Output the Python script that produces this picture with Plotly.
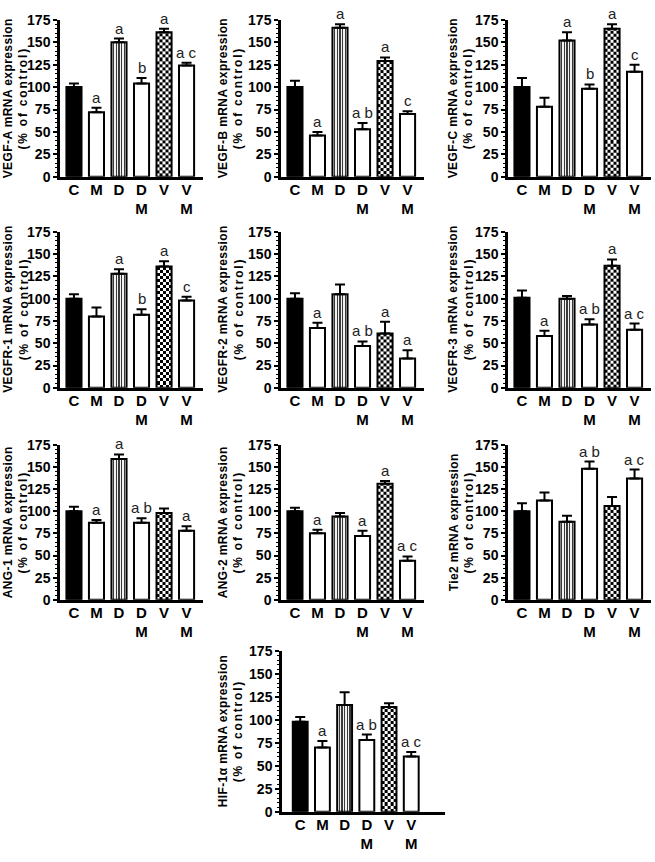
import numpy as np
import plotly.graph_objects as go

# ---------------- data ----------------
categories = ["C", "M", "D", "D<br>M", "V", "V<br>M"]
y_ticks = [0, 25, 50, 75, 100, 125, 150, 175]

genes = ["VEGF-A", "VEGF-B", "VEGF-C", "VEGFR-1", "VEGFR-2",
         "VEGFR-3", "ANG-1", "ANG-2", "Tie2", "HIF-1α"]

vegfa_mean = [100, 72, 150, 104, 161, 124]
vegfa_sem = [4, 5, 4, 6, 4, 3]
vegfa_sig = ["", "a", "a", "b", "a", "a c"]

vegfb_mean = [100, 46, 166, 53, 129, 70]
vegfb_sem = [7, 4, 4, 7, 4, 3]
vegfb_sig = ["", "a", "a", "a b", "a", "c"]

vegfc_mean = [100, 78, 152, 98, 165, 117]
vegfc_sem = [10, 10, 9, 5, 5, 8]
vegfc_sig = ["", "", "a", "b", "a", "c"]

vegfr1_mean = [100, 80, 128, 82, 136, 98]
vegfr1_sem = [5, 10, 5, 6, 6, 4]
vegfr1_sig = ["", "", "a", "b", "a", "c"]

vegfr2_mean = [100, 67, 105, 47, 61, 33]
vegfr2_sem = [6, 6, 11, 5, 13, 9]
vegfr2_sig = ["", "a", "", "a b", "a", "a"]

vegfr3_mean = [101, 58, 100, 71, 137, 65]
vegfr3_sem = [8, 6, 3, 6, 7, 7]
vegfr3_sig = ["", "a", "", "a b", "a", "a c"]

ang1_mean = [100, 87, 159, 87, 98, 78]
ang1_sem = [5, 3, 5, 5, 5, 5]
ang1_sig = ["", "a", "a", "a b", "", "a"]

ang2_mean = [100, 75, 94, 72, 131, 44]
ang2_sem = [4, 4, 4, 6, 3, 5]
ang2_sig = ["", "a", "", "a", "a", "a c"]

tie2_mean = [100, 112, 88, 148, 106, 137]
tie2_sem = [9, 9, 7, 8, 10, 10]
tie2_sig = ["", "", "", "a b", "", "a c"]

hif1a_mean = [98, 70, 116, 78, 114, 60]
hif1a_sem = [5, 7, 14, 6, 4, 5]
hif1a_sig = ["", "a", "", "a b", "", "a c"]

means = [vegfa_mean, vegfb_mean, vegfc_mean, vegfr1_mean, vegfr2_mean,
         vegfr3_mean, ang1_mean, ang2_mean, tie2_mean, hif1a_mean]
sems = [vegfa_sem, vegfb_sem, vegfc_sem, vegfr1_sem, vegfr2_sem,
        vegfr3_sem, ang1_sem, ang2_sem, tie2_sem, hif1a_sem]
sigs = [vegfa_sig, vegfb_sig, vegfc_sig, vegfr1_sig, vegfr2_sig,
        vegfr3_sig, ang1_sig, ang2_sig, tie2_sig, hif1a_sig]

# ---------------- layout / style ----------------
W, H = 655, 862
FONT = "Liberation Sans, Arial, sans-serif"
# (x0, x1, y_top, y_zero) in screen pixels
panel_boxes = [
    (60, 203, 12, 172), (281, 424, 12, 172), (508, 651, 12, 172),
    (60, 203, 228, 387), (281, 424, 228, 387), (508, 651, 228, 387),
    (60, 203, 445, 603), (281, 424, 445, 603), (508, 651, 445, 603),
    (282, 445, 655, 819),
]
title_x = [16, 231, 461, 16, 231, 461, 16, 231, 462, 231]
x_ranges = [[-0.62, 5.73]] * 9 + [[-0.82, 6.52]]
BAR_W = 0.67
fill_colors = ["black", "white", "rgba(0,0,0,0)", "white", "rgba(0,0,0,0)", "white"]
CHECK_IDX = 4     # checkerboard bar
CHECK_NX = 5
CHECK_H = 3.4
STRIPE_IDX = 2    # vertical-stripe bar
STRIPE_N = 11

fig = go.Figure()
annotations = []
layout_axes = {}

for i in range(10):
    sfx = "" if i == 0 else str(i + 1)
    xa, ya = "x" + sfx, "y" + sfx
    x0, x1, yt, yz = panel_boxes[i]
    m, s, sg = means[i], sems[i], sigs[i]
    xs = list(range(len(categories)))

    # checkerboard fill under the V bar, built from its value
    v = m[CHECK_IDX]
    xe = np.linspace(CHECK_IDX - BAR_W / 2, CHECK_IDX + BAR_W / 2, CHECK_NX + 1)
    ye = np.append(np.arange(0, v, CHECK_H), v)
    z = [[(r + c) % 2 for c in range(CHECK_NX)] for r in range(len(ye) - 1)]
    fig.add_trace(go.Heatmap(
        x=xe, y=ye, z=z, zmin=0, zmax=1,
        colorscale=[[0, "white"], [1, "black"]], showscale=False,
        hoverinfo="skip", xaxis=xa, yaxis=ya))

    # vertical stripes under the D bar, built from its value
    d = m[STRIPE_IDX]
    xe2 = np.linspace(STRIPE_IDX - BAR_W / 2, STRIPE_IDX + BAR_W / 2, STRIPE_N + 1)
    z2 = [[c % 2 for c in range(STRIPE_N)]]
    fig.add_trace(go.Heatmap(
        x=xe2, y=[0, d], z=z2, zmin=0, zmax=1,
        colorscale=[[0, "#f2f2f2"], [1, "#3a3a3a"]], showscale=False,
        hoverinfo="skip", xaxis=xa, yaxis=ya))

    fig.add_trace(go.Bar(
        x=xs, y=m, width=BAR_W,
        marker=dict(color=fill_colors, line=dict(color="black", width=2)),
        error_y=dict(type="data", symmetric=False, array=s,
                     arrayminus=[0] * len(s), color="black",
                     thickness=2, width=5),
        showlegend=False, xaxis=xa, yaxis=ya))

    for j in xs:
        if sg[j]:
            annotations.append(dict(
                x=j, y=m[j] + s[j], xref=xa, yref=ya, text=sg[j],
                showarrow=False, yanchor="bottom", xanchor="center",
                font=dict(family=FONT, size=15, color="#222")))

    dom_x = [x0 / W, x1 / W]
    dom_y = [1 - yz / H, 1 - yt / H]
    annotations.append(dict(
        x=title_x[i] / W, y=(dom_y[0] + dom_y[1]) / 2, xref="paper",
        yref="paper", textangle=-90, showarrow=False,
        xanchor="center", yanchor="middle",
        text=(f"<span style='letter-spacing:0.4px'><b>{genes[i]} mRNA expression</b></span>"
              "<br><span style='letter-spacing:1.8px'><b>(% of control)</b></span>"),
        font=dict(family=FONT, size=12, color="black")))

    layout_axes["xaxis" + sfx] = dict(
        domain=dom_x, anchor=ya, range=x_ranges[i],
        tickvals=xs, ticktext=categories, ticks="",
        showline=True, linecolor="black", linewidth=2.5,
        showgrid=False, zeroline=False, ticklabelstandoff=-3,
        tickfont=dict(family=FONT, size=15, color="black", weight="bold"))
    layout_axes["yaxis" + sfx] = dict(
        domain=dom_y, anchor=xa, range=[0, 175],
        tickvals=y_ticks, ticks="outside", ticklen=4, tickwidth=2,
        tickcolor="black", showline=True, linecolor="black", linewidth=2.5,
        showgrid=False, zeroline=False,
        minor=dict(ticks="outside", ticklen=2, tickwidth=1, dtick=5,
                   tickcolor="black", showgrid=False),
        tickfont=dict(family=FONT, size=14, color="black", weight="bold"))

fig.update_layout(
    width=W, height=H, margin=dict(l=0, r=0, t=0, b=0),
    paper_bgcolor="white", plot_bgcolor="white",
    showlegend=False, annotations=annotations, **layout_axes)

fig.write_html("out.html", config={"displayModeBar": False},
               post_script="document.body.style.margin='0';")
